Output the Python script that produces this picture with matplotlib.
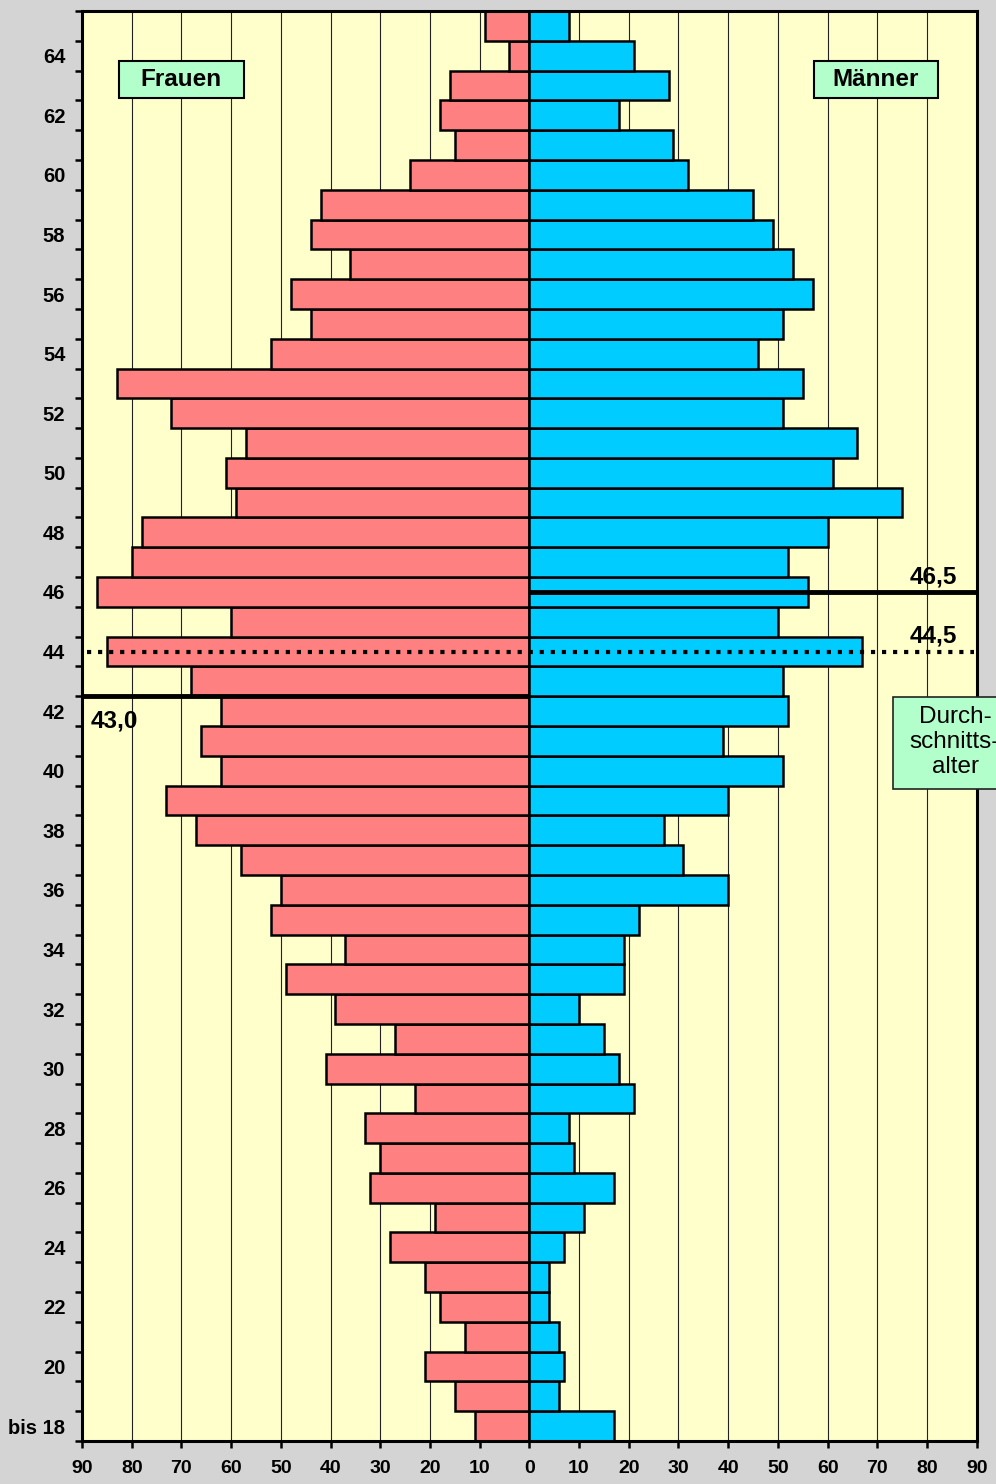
import matplotlib
matplotlib.use('Agg')
import matplotlib.pyplot as plt
from matplotlib.patches import Rectangle
from matplotlib.ticker import FixedLocator, NullFormatter, FixedFormatter

# ---------------- data ----------------
ages = list(range(18, 66))
frauen = [11, 15, 21, 13, 18, 21, 28, 19, 32, 30, 33, 23, 41, 27, 39, 49,
          37, 52, 50, 58, 67, 73, 62, 66, 62, 68, 85, 60, 87, 80, 78, 59,
          61, 57, 72, 83, 52, 44, 48, 36, 44, 42, 24, 15, 18, 16, 4, 9]
maenner = [17, 6, 7, 6, 4, 4, 7, 11, 17, 9, 8, 21, 18, 15, 10, 19,
           19, 22, 40, 31, 27, 40, 51, 39, 52, 51, 67, 50, 56, 52, 60, 75,
           61, 66, 51, 55, 46, 51, 57, 53, 49, 45, 32, 29, 18, 28, 21, 8]
label_ages = [18] + list(range(20, 65, 2))
age_labels = ['bis 18'] + [str(a) for a in range(20, 65, 2)]
x_ticks = list(range(-90, 91, 10))
x_tick_labels = [str(abs(v)) for v in x_ticks]
mean_frauen = 43.0
mean_maenner = 46.5
mean_gesamt = 44.5
mean_labels = ['43,0', '46,5', '44,5']

# ---------------- style ----------------
plt.rcParams['font.family'] = ['Liberation Sans', 'DejaVu Sans']
FEMALE = '#FF8080'
MALE = '#00CCFF'
BG = '#FFFFCC'
FIGBG = '#D4D4D4'
BOX = '#B3FFCC'

W, H = 996, 1484
fig = plt.figure(figsize=(W / 100, H / 100), dpi=100, facecolor=FIGBG)
left, right, top, bottom = 82, 976.7, 11, 1441
ax = fig.add_axes([left / W, 1 - bottom / H, (right - left) / W, (bottom - top) / H])
ax.set_facecolor(BG)
ax.set_xlim(-90, 90)
ax.set_ylim(18, 66)

for x in x_ticks[1:-1]:
    ax.axvline(x, color='#222222', lw=0.8, zorder=1)

ycent = [a + 0.5 for a in ages]
ax.barh(ycent, [-v for v in frauen], height=1.0, color=FEMALE,
        edgecolor='black', linewidth=1.8, zorder=2)
ax.barh(ycent, maenner, height=1.0, color=MALE,
        edgecolor='black', linewidth=1.8, zorder=2)

# average lines
ax.plot([-90, 0], [mean_frauen, mean_frauen], color='black', lw=3.5,
        solid_capstyle='butt', zorder=4)
ax.plot([0, 90], [mean_maenner, mean_maenner], color='black', lw=3.5,
        solid_capstyle='butt', zorder=4)
ax.plot([-89, 89.5], [mean_gesamt, mean_gesamt], color='black', lw=3,
        linestyle=(0, (1, 1.65)), dash_capstyle='butt', zorder=4)

tfs = 17.5
ax.annotate(mean_labels[0], xy=(-88.3, mean_frauen), xytext=(0, -22.3),
            textcoords='offset points', ha='left', va='baseline',
            fontsize=tfs, fontweight='bold', zorder=6)
ax.annotate(mean_labels[1], xy=(86.1, mean_maenner), xytext=(0, 6.0),
            textcoords='offset points', ha='right', va='baseline',
            fontsize=tfs, fontweight='bold', zorder=6)
ax.annotate(mean_labels[2], xy=(86.1, mean_gesamt), xytext=(0, 6.8),
            textcoords='offset points', ha='right', va='baseline',
            fontsize=tfs, fontweight='bold', zorder=6)

# Frauen / Männer boxes
ax.add_patch(Rectangle((-82.5, 63.08), 25, 1.24, facecolor=BOX,
                       edgecolor='black', lw=1.5, zorder=5))
ax.text(-70, 63.70, 'Frauen', ha='center', va='center', fontsize=tfs,
        fontweight='bold', zorder=6)
ax.add_patch(Rectangle((57.2, 63.08), 25, 1.24, facecolor=BOX,
                       edgecolor='black', lw=1.5, zorder=5))
ax.text(69.7, 63.70, 'Männer', ha='center', va='center', fontsize=tfs,
        fontweight='bold', zorder=6)

# Durchschnittsalter box (figure coords, clipped at figure edge as in the original)
fig.add_artist(Rectangle((892.7 / W, 1 - 789 / H), 0.2, (789 - 697) / H,
                         transform=fig.transFigure, facecolor=BOX,
                         edgecolor='#222222', lw=1.2, zorder=5))
fig.text(955 / W, 1 - 742 / H, 'Durch-\nschnitts-\nalter', ha='center',
         va='center', fontsize=tfs, multialignment='center', zorder=6,
         linespacing=1.15)

# axes ticks
for s in ax.spines.values():
    s.set_linewidth(2.2)
    s.set_zorder(3)

ax.yaxis.set_major_locator(FixedLocator(list(range(18, 67))))
ax.yaxis.set_major_formatter(NullFormatter())
ax.yaxis.set_minor_locator(FixedLocator([a + 0.5 for a in label_ages]))
ax.yaxis.set_minor_formatter(FixedFormatter(age_labels))
ax.tick_params(axis='y', which='major', length=5, width=1.8, direction='out')
ax.tick_params(axis='y', which='minor', length=0, pad=12, labelsize=14.5)
for lbl in ax.get_yticklabels(minor=True):
    lbl.set_fontweight('bold')

ax.set_xticks(x_ticks)
ax.set_xticklabels(x_tick_labels, fontweight='bold', fontsize=14)
ax.tick_params(axis='x', length=5, width=1.8, direction='out', pad=9)

fig.savefig('out.png', dpi=100, facecolor=fig.get_facecolor())
